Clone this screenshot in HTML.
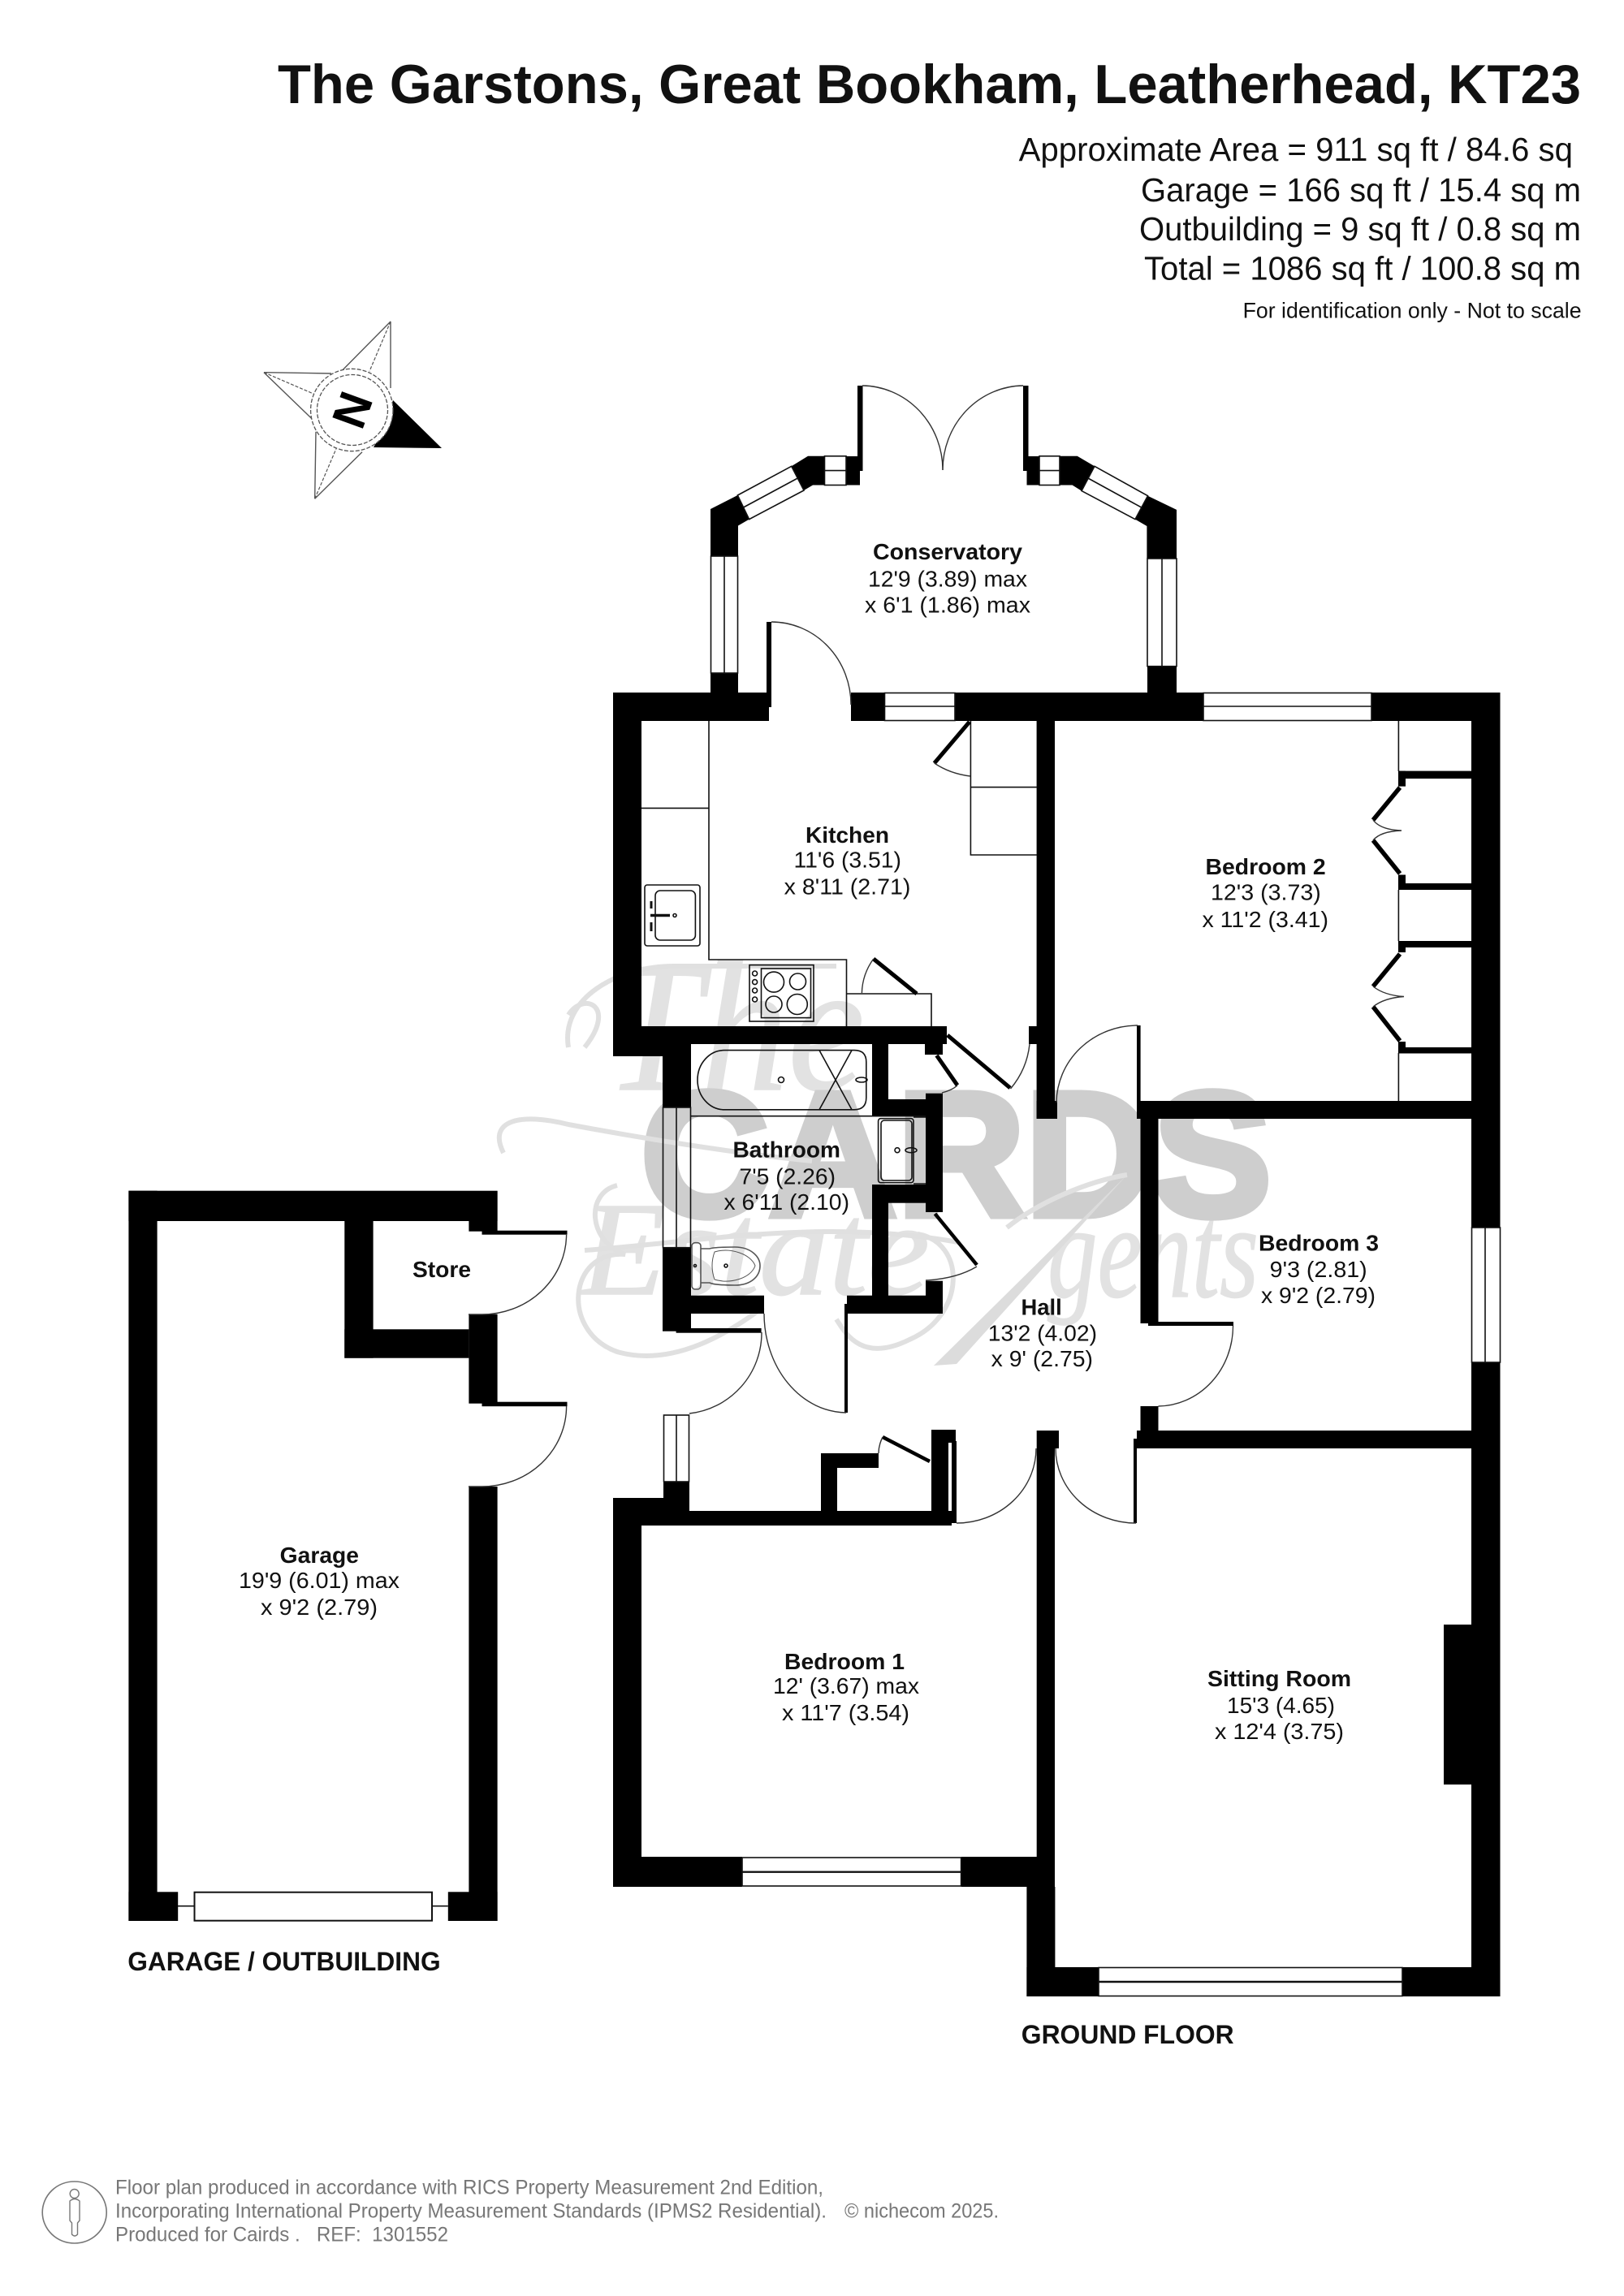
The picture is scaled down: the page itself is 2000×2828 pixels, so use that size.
<!DOCTYPE html>
<html><head><meta charset="utf-8"><style>html,body{margin:0;padding:0;background:#fff}svg{display:block}text{font-family:"Liberation Sans",sans-serif;fill:#111}.b{font-weight:700}.s{font-family:"Liberation Serif",serif;font-style:italic;fill:#e2e2e2;stroke:#e2e2e2;stroke-width:1.5}.f{fill:#777}.th{fill:none;stroke:#111;stroke-width:1.6}.ar{fill:none;stroke:#333;stroke-width:1.4}.wm{fill:none;stroke:#e0e0e0;stroke-width:6}.lf{stroke:#000;stroke-width:5;fill:none}</style></head><body>
<svg width="2000" height="2828" viewBox="0 0 2000 2828" xmlns="http://www.w3.org/2000/svg">
<rect width="2000" height="2828" fill="#fff"/>
<!-- watermark -->
<text x="745" y="1342" font-size="230" class="s" textLength="320" lengthAdjust="spacingAndGlyphs">The</text>
<text x="715" y="1594" font-size="165" class="s" textLength="430" lengthAdjust="spacingAndGlyphs">Estate</text>
<text x="1290" y="1597" font-size="165" class="s" textLength="260" lengthAdjust="spacingAndGlyphs">gents</text>
<text x="789" y="1497" font-size="218" class="b" style="fill:#cecece;stroke:#cecece;stroke-width:9" textLength="777" lengthAdjust="spacingAndGlyphs">CARDS</text>
<path d="M1388 1447 L1150 1682 L1178 1680 Z" fill="#dcdcdc"/>
<path d="M1388 1447 C1340 1455 1280 1480 1240 1512" class="wm"/>
<path d="M700 1290C690 1230 760 1190 830 1190L1030 1190" class="wm"/>
<path d="M620 1420C600 1380 640 1370 700 1385C780 1400 900 1420 1000 1430" class="wm"/>
<path d="M760 1460C720 1470 725 1530 770 1545C700 1540 690 1640 760 1665C830 1685 900 1640 940 1610" class="wm"/>
<path d="M1130 1520C1190 1530 1190 1620 1120 1650C1060 1680 1040 1640 1030 1625" class="wm"/>
<path d="M720 1540C860 1530 1010 1500 1180 1530" class="wm"/>
<path d="M720 1290C760 1240 720 1220 700 1250" class="wm"/>
<!-- walls -->
<g fill="#000">
<rect x="755" y="853" width="192" height="35"/><rect x="946" y="853" width="4" height="18"/>
<rect x="875" y="829" width="34" height="25"/>
<rect x="1048" y="853" width="41.5" height="35"/>
<rect x="1176" y="853" width="306" height="35"/>
<rect x="1689" y="853" width="158.5" height="35"/>
<rect x="1812" y="853" width="35.5" height="659"/><rect x="1812" y="1678" width="35.5" height="781"/>
<rect x="755" y="853" width="35" height="448"/>
<rect x="755" y="1264" width="411" height="22"/><rect x="755" y="1286" width="96" height="15"/>
<rect x="816" y="1286" width="35" height="78"/><rect x="816" y="1536.7" width="35" height="103"/>
<rect x="851" y="1595.7" width="90" height="22.3"/>
<rect x="1043" y="1595.7" width="118" height="22.3"/><rect x="1140" y="1577.7" width="21" height="40"/>
<rect x="1074" y="1286" width="20" height="68"/><rect x="1074" y="1354" width="66" height="21"/>
<rect x="1140" y="1346.7" width="21" height="146.3"/>
<rect x="1074" y="1459" width="66" height="22.7"/><rect x="1074" y="1459" width="20" height="137"/>
<rect x="1139" y="1286" width="22" height="13"/>
<rect x="1276.6" y="888" width="22.4" height="490"/><rect x="1276.6" y="1356" width="25.4" height="22"/>
<rect x="1267" y="1264" width="10" height="22"/>
<rect x="1276.7" y="1762" width="27.3" height="22"/><rect x="1276.7" y="1784" width="22.3" height="540"/>
<rect x="1264.4" y="2324" width="35" height="135"/>
<rect x="755" y="2287" width="159" height="37"/><rect x="1183.6" y="2287" width="94" height="37"/><rect x="1277" y="2300" width="22" height="24"/>
<rect x="1264.4" y="2423" width="88.6" height="36"/><rect x="1727" y="2423" width="120.5" height="36"/>
<rect x="1400" y="1356" width="412" height="22"/>
<rect x="1404.5" y="1378" width="22" height="252"/>
<rect x="1404.5" y="1732" width="22" height="30"/>
<rect x="1400" y="1762" width="412" height="22"/><rect x="1396" y="1772" width="4" height="104"/>
<rect x="1400" y="1263" width="4.6" height="104"/>
<rect x="1414" y="1628" width="105" height="5"/>
<rect x="755" y="1845" width="35" height="479"/>
<rect x="755" y="1845" width="94" height="34"/><rect x="817" y="1825" width="32" height="54"/>
<rect x="849" y="1861" width="323" height="18"/>
<rect x="1011" y="1790" width="20" height="71"/><rect x="1011" y="1790" width="71" height="18"/>
<rect x="1147" y="1761" width="21" height="100"/><rect x="1172" y="1775" width="6" height="101"/><rect x="1160" y="1761" width="17" height="16"/>
<rect x="1778" y="2001" width="34" height="197"/>
<!-- wardrobe -->
<rect x="1722" y="949.6" width="90" height="9.4"/><rect x="1722" y="949.6" width="9" height="19"/>
<rect x="1722" y="1077.5" width="9" height="18"/><rect x="1722" y="1088" width="90" height="8"/>
<rect x="1722" y="1159" width="90" height="8"/><rect x="1722" y="1159" width="9" height="14"/>
<rect x="1722" y="1283" width="9" height="14"/><rect x="1722" y="1290" width="90" height="7.5"/>
<!-- conservatory -->
<polygon points="875,627 908.4,610 922.6,639.6 909,647.5 909,685 875,685"/>
<polygon points="974.7,574.3 995,561.8 1015.5,561.8 1015.5,597.5 1001,597.5 990,604"/>
<rect x="1042" y="562" width="17" height="35.5"/><rect x="1056" y="475" width="6.5" height="105"/>
<rect x="1260" y="475" width="6.5" height="105"/><rect x="1264.5" y="562" width="15.5" height="35.5"/>
<polygon points="1305,561.8 1326.7,561.8 1348,574.3 1332,604.6 1320.6,597.5 1305,597.5"/>
<polygon points="1413.5,610.7 1449,627.9 1449,688 1412.4,688 1412.4,648 1398,639.6"/>
<rect x="1413" y="820.7" width="36" height="33"/>
<rect x="944" y="766" width="6" height="105"/>
<!-- garage -->
<rect x="158.4" y="1466.7" width="35.2" height="899.3"/><rect x="158.4" y="1466.7" width="454.2" height="37.3"/>
<rect x="158.4" y="2330.3" width="60.8" height="35.7"/><rect x="551.8" y="2330.3" width="60.8" height="35.7"/>
<rect x="577.4" y="1831" width="35.2" height="535"/><rect x="577.4" y="1618.7" width="35.2" height="110"/>
<rect x="577.4" y="1467" width="35.2" height="49.7"/>
<rect x="424.3" y="1504" width="35.3" height="168.7"/><rect x="424.3" y="1637.3" width="153.1" height="35.4"/>
<rect x="593.5" y="1515.7" width="105" height="5"/><rect x="593.5" y="1726.7" width="105" height="5.5"/>
<rect x="832.6" y="1636" width="105" height="5.7"/>
<rect x="1040" y="1606" width="4" height="134"/>
</g>
<!-- compass -->
<g>
<polygon points="484,493 544,552 460,551 472,530" fill="#000"/>
<path d="M481 396L421.7 456M481 396V478M325 458.7L408 460M325 458.7L385 516.7M387.7 614.3L389 531.7M387.7 614.3L446 556.7" fill="none" stroke="#555" stroke-width="1.4"/>
<path d="M481 396L455 457.3M325 458.7L386 485M387.7 614.3L414 552.7" fill="none" stroke="#555" stroke-width="1.2" stroke-dasharray="4 2"/>
<circle cx="433.3" cy="505" r="50.7" fill="#fff" stroke="#555" stroke-width="1.3" stroke-dasharray="5 2"/>
<circle cx="434" cy="505" r="43.5" fill="#fff" stroke="#555" stroke-width="1.3" stroke-dasharray="5 2"/>
<text transform="translate(434 505) rotate(110)" y="20" text-anchor="middle" font-size="58" class="b" style="fill:#000">N</text>
</g>
<!-- windows -->
<g class="th">
<polygon points="908.4,610 974.7,574.3 990,604 922.6,639.6"/><line x1="915.5" y1="625" x2="982.3" y2="589"/>
<rect x="1015.5" y="561.8" width="26.5" height="35.7"/><line x1="1015.5" y1="579.6" x2="1042" y2="579.6"/>
<rect x="1280" y="561.8" width="25" height="35.7"/><line x1="1280" y1="579.6" x2="1305" y2="579.6"/>
<polygon points="1348,574.3 1413.5,610.7 1398,639.6 1332,604.6"/><line x1="1340" y1="589" x2="1405.7" y2="625"/>
<rect x="875.5" y="685" width="33" height="144"/><line x1="892" y1="685" x2="892" y2="829"/>
<rect x="1413" y="688" width="36" height="132.7"/><line x1="1431" y1="688" x2="1431" y2="820.7"/>
<rect x="1089.5" y="853.5" width="86.5" height="34"/><line x1="1089.5" y1="870" x2="1176" y2="870"/>
<rect x="1482" y="853.5" width="207" height="34"/><line x1="1482" y1="870" x2="1689" y2="870"/>
<rect x="1812.5" y="1512" width="35" height="166"/><line x1="1829" y1="1512" x2="1829" y2="1678"/>
<rect x="816.5" y="1364" width="34" height="172.7"/><line x1="833" y1="1364" x2="833" y2="1536.7"/>
<rect x="817.5" y="1743" width="31" height="82"/><line x1="833" y1="1743" x2="833" y2="1825"/>
<rect x="914" y="2288" width="269.6" height="35"/><line x1="914" y1="2305.7" x2="1183.6" y2="2305.7" stroke-width="2.4"/>
<rect x="1353" y="2423.5" width="374" height="35"/><line x1="1353" y1="2441" x2="1727" y2="2441" stroke-width="2.4"/>
<rect x="239.5" y="2330.7" width="292.5" height="35" stroke-width="2"/><line x1="219" y1="2347.7" x2="239.5" y2="2347.7"/><line x1="532" y1="2347.7" x2="551.8" y2="2347.7"/>
<!-- fittings -->
<path d="M873 888V1182H1042.5V1264M790 995.4H873M1195.4 888V1053H1277M1195.4 969.6H1277M1042.5 1224H1147V1264"/>
<path d="M1722.4 888V950M1722.4 1096V1159M1722.4 1297V1356"/>
<path d="M851 1374.7H1140"/>
<rect x="794" y="1090" width="68" height="75" rx="3"/><rect x="807" y="1097" width="49.4" height="61" rx="6"/>
<path d="M801 1127.5H825" stroke-width="3.5"/><circle cx="831" cy="1127.5" r="2"/>
<path d="M802 1110V1119M802 1136V1147" stroke-width="3"/>
<rect x="923" y="1188.6" width="79" height="69.4"/><rect x="937.5" y="1193" width="61" height="60.6"/>
<circle cx="953" cy="1209.6" r="12.5"/><circle cx="982.5" cy="1209" r="10"/><circle cx="953" cy="1237" r="10"/><circle cx="981.8" cy="1237" r="12.5"/>
<circle cx="929.6" cy="1199" r="3"/><circle cx="929.6" cy="1209.6" r="3"/><circle cx="929.6" cy="1220" r="3"/><circle cx="929.6" cy="1231" r="3"/>
<path d="M892 1293.6H1052Q1066.8 1293.6 1066.8 1308V1352Q1066.8 1366.8 1052 1366.8H892A33 36.6 0 0 1 892 1293.6Z"/>
<path d="M1009 1293.6L1049 1366.8M1049 1293.6L1009 1366.8"/>
<circle cx="962" cy="1330" r="3.5"/><ellipse cx="1061" cy="1330" rx="7" ry="3"/>
<rect x="1081.6" y="1377.7" width="43.4" height="79" rx="3"/><rect x="1085" y="1380" width="38" height="74" rx="4"/>
<path d="M1125 1376H1140M1125 1458H1140"/><circle cx="1105" cy="1416.7" r="3"/><ellipse cx="1122" cy="1416.7" rx="7" ry="3"/>
<rect x="852" y="1530.7" width="11" height="57.3" rx="4" stroke="#555"/>
<path d="M863 1538H874Q880 1536 905 1536C925 1536 936 1548 936 1559C936 1572 925 1583 905 1583Q880 1583 874 1580H863" stroke="#555"/>
<path d="M880 1542C900 1536 925 1545 930 1559C925 1574 900 1582 880 1576Q874 1559 880 1542Z" stroke="#555" stroke-width="1"/>
<circle cx="894" cy="1559" r="2"/><circle cx="856" cy="1559" r="1.5"/>
</g>
<!-- door leaves -->
<g class="lf">
<path d="M1194 889L1150.7 940"/><path d="M1075.7 1181L1129 1224"/>
<path d="M1166.8 1275L1244 1340"/><path d="M1153.5 1300L1179 1336.7"/><path d="M1151.5 1495L1203 1558" stroke-width="4.5"/>
<path d="M1724 970L1691 1010M1691 1035L1724 1076M1724 1175L1691 1215M1691 1240L1724 1282" stroke-width="5.5"/>
<path d="M1087 1770L1145 1800" stroke-width="4.5"/>
</g>
<!-- arcs -->
<g class="ar">
<path d="M1062 475A100 104 0 0 1 1161 579"/><path d="M1260 475A100 104 0 0 0 1161 579"/>
<path d="M950 766A98 102 0 0 1 1048 868"/>
<path d="M1401 1263A100 96 0 0 0 1301 1358"/>
<path d="M1244.5 1341A102 102 0 0 0 1268 1286"/>
<path d="M1179 1337Q1172 1343 1160 1346"/>
<path d="M1203 1560Q1178 1575 1140 1577"/>
<path d="M1150.7 940Q1170 953 1195 956"/><path d="M1075.7 1181Q1062 1200 1061.4 1223"/>
<path d="M1518.5 1633A93 99 0 0 1 1426.5 1732"/>
<path d="M1399 1876A99 92 0 0 1 1300 1784"/>
<path d="M1178 1876A98 92 0 0 0 1276 1784"/>
<path d="M941 1618A102 122 0 0 0 1042 1740"/>
<path d="M938 1641A100 100 0 0 1 849 1741"/>
<path d="M697.6 1520A104 99 0 0 1 593 1619H577"/>
<path d="M697.6 1732A104 99 0 0 1 593 1831H577"/>
<path d="M1691 1010Q1700 1022 1726 1023Q1700 1024 1691 1035"/>
<path d="M1691 1215Q1705 1226 1729 1227.5Q1705 1229 1691 1240"/>
<path d="M1087 1770Q1082 1780 1082 1790"/>
</g>
<!-- headings -->
<text x="342" y="127" font-size="68" class="b" textLength="1605" lengthAdjust="spacingAndGlyphs">The Garstons, Great Bookham, Leatherhead, KT23</text>
<text x="1254.6" y="198" font-size="41" textLength="682.4" lengthAdjust="spacingAndGlyphs">Approximate Area = 911 sq ft / 84.6 sq</text>
<text x="1405" y="248" font-size="41" textLength="542" lengthAdjust="spacingAndGlyphs">Garage = 166 sq ft / 15.4 sq m</text>
<text x="1403" y="296" font-size="41" textLength="544" lengthAdjust="spacingAndGlyphs">Outbuilding = 9 sq ft / 0.8 sq m</text>
<text x="1409" y="344.7" font-size="41" textLength="538" lengthAdjust="spacingAndGlyphs">Total = 1086 sq ft / 100.8 sq m</text>
<text x="1530.6" y="391.7" font-size="26.5" textLength="417" lengthAdjust="spacingAndGlyphs">For identification only - Not to scale</text>
<!-- room labels -->
<g font-size="28">
<text class="b" x="1075" y="689" textLength="184" lengthAdjust="spacingAndGlyphs">Conservatory</text>
<text x="1069" y="722.5" textLength="196" lengthAdjust="spacingAndGlyphs">12'9 (3.89) max</text>
<text x="1065" y="754.3" textLength="204" lengthAdjust="spacingAndGlyphs">x 6'1 (1.86) max</text>
<text class="b" x="992" y="1038" textLength="103" lengthAdjust="spacingAndGlyphs">Kitchen</text>
<text x="977.5" y="1068.6" textLength="132.5" lengthAdjust="spacingAndGlyphs">11'6 (3.51)</text>
<text x="965.7" y="1101.4" textLength="155.7" lengthAdjust="spacingAndGlyphs">x 8'11 (2.71)</text>
<text class="b" x="1484.5" y="1076.8" textLength="148.2" lengthAdjust="spacingAndGlyphs">Bedroom 2</text>
<text x="1491" y="1108.6" textLength="135.8" lengthAdjust="spacingAndGlyphs">12'3 (3.73)</text>
<text x="1480.5" y="1141.8" textLength="155.5" lengthAdjust="spacingAndGlyphs">x 11'2 (3.41)</text>
<text class="b" x="902.5" y="1425.7" textLength="132.5" lengthAdjust="spacingAndGlyphs">Bathroom</text>
<text x="910.5" y="1458.3" textLength="118.5" lengthAdjust="spacingAndGlyphs">7'5 (2.26)</text>
<text x="891.5" y="1490" textLength="154.5" lengthAdjust="spacingAndGlyphs">x 6'11 (2.10)</text>
<text class="b" x="1257.5" y="1619.3" textLength="50.2" lengthAdjust="spacingAndGlyphs">Hall</text>
<text x="1216.8" y="1651.7" textLength="134.2" lengthAdjust="spacingAndGlyphs">13'2 (4.02)</text>
<text x="1220.7" y="1683" textLength="125.3" lengthAdjust="spacingAndGlyphs">x 9' (2.75)</text>
<text class="b" x="1550" y="1540.7" textLength="148" lengthAdjust="spacingAndGlyphs">Bedroom 3</text>
<text x="1563.7" y="1572.9" textLength="120" lengthAdjust="spacingAndGlyphs">9'3 (2.81)</text>
<text x="1553" y="1605" textLength="141" lengthAdjust="spacingAndGlyphs">x 9'2 (2.79)</text>
<text class="b" x="508" y="1573" textLength="72" lengthAdjust="spacingAndGlyphs">Store</text>
<text class="b" x="344.7" y="1925" textLength="97.3" lengthAdjust="spacingAndGlyphs">Garage</text>
<text x="294" y="1956" textLength="198" lengthAdjust="spacingAndGlyphs">19'9 (6.01) max</text>
<text x="321" y="1989" textLength="144" lengthAdjust="spacingAndGlyphs">x 9'2 (2.79)</text>
<text class="b" x="966" y="2056" textLength="148" lengthAdjust="spacingAndGlyphs">Bedroom 1</text>
<text x="952" y="2086" textLength="180" lengthAdjust="spacingAndGlyphs">12' (3.67) max</text>
<text x="963" y="2119" textLength="157" lengthAdjust="spacingAndGlyphs">x 11'7 (3.54)</text>
<text class="b" x="1487" y="2077" textLength="177" lengthAdjust="spacingAndGlyphs">Sitting Room</text>
<text x="1511" y="2110" textLength="133" lengthAdjust="spacingAndGlyphs">15'3 (4.65)</text>
<text x="1496" y="2142" textLength="159" lengthAdjust="spacingAndGlyphs">x 12'4 (3.75)</text>
</g>
<text class="b" x="157.2" y="2427" font-size="32" textLength="385.4" lengthAdjust="spacingAndGlyphs">GARAGE / OUTBUILDING</text>
<text class="b" x="1257.8" y="2517" font-size="32" textLength="261.8" lengthAdjust="spacingAndGlyphs">GROUND FLOOR</text>
<!-- footer -->
<ellipse cx="91.7" cy="2725" rx="39.5" ry="38" fill="none" stroke="#777" stroke-width="1.6"/>
<circle cx="91.7" cy="2702" r="5.5" fill="none" stroke="#777" stroke-width="1.4"/>
<path d="M86 2711Q92 2706 98 2711V2735L95.5 2738V2752Q92 2756 88.5 2752V2738L86 2735Z" fill="none" stroke="#777" stroke-width="1.4"/>
<text class="f" x="142" y="2702.7" font-size="25" textLength="872" lengthAdjust="spacingAndGlyphs">Floor plan produced in accordance with RICS Property Measurement 2nd Edition,</text>
<text class="f" x="142" y="2731.7" font-size="25" textLength="876" lengthAdjust="spacingAndGlyphs">Incorporating International Property Measurement Standards (IPMS2 Residential).</text>
<text class="f" x="1040" y="2731.7" font-size="25" textLength="190" lengthAdjust="spacingAndGlyphs">© nichecom 2025.</text>
<text class="f" x="142" y="2760.7" font-size="25" textLength="410" lengthAdjust="spacingAndGlyphs" xml:space="preserve">Produced for Cairds .   REF:  1301552</text>
</svg>
</body></html>
